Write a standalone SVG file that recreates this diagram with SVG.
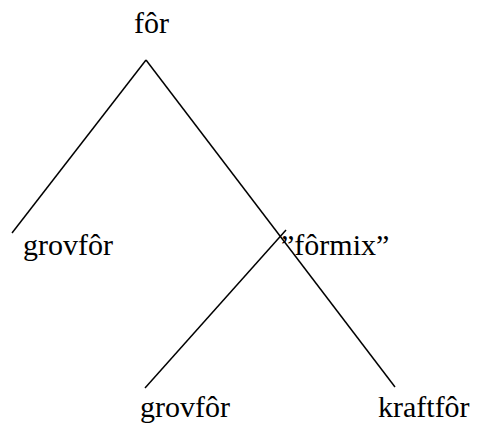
<svg xmlns="http://www.w3.org/2000/svg" width="477" height="425" viewBox="0 0 477 425">
<style>
text { font-family: "Liberation Serif", "Times New Roman", serif; font-size: 30px; fill: #000; }
line { stroke: #000; stroke-width: 1.5; }
</style>
<rect width="477" height="425" fill="#fff"/>
<g id="connectors">
<line x1="146" y1="60" x2="12" y2="233"/>
<line x1="146" y1="60" x2="395" y2="387"/>
<line x1="286" y1="230" x2="145" y2="388"/>
</g>
<g id="n-for"><text x="134" y="33">fôr</text></g>
<g id="n-grovfor1"><text x="23" y="255">grovfôr</text></g>
<g id="n-formix"><text x="281" y="255">”fôrmix”</text></g>
<g id="n-grovfor2"><text x="140" y="417">grovfôr</text></g>
<g id="n-kraftfor"><text x="378" y="417">kraftfôr</text></g>
</svg>
